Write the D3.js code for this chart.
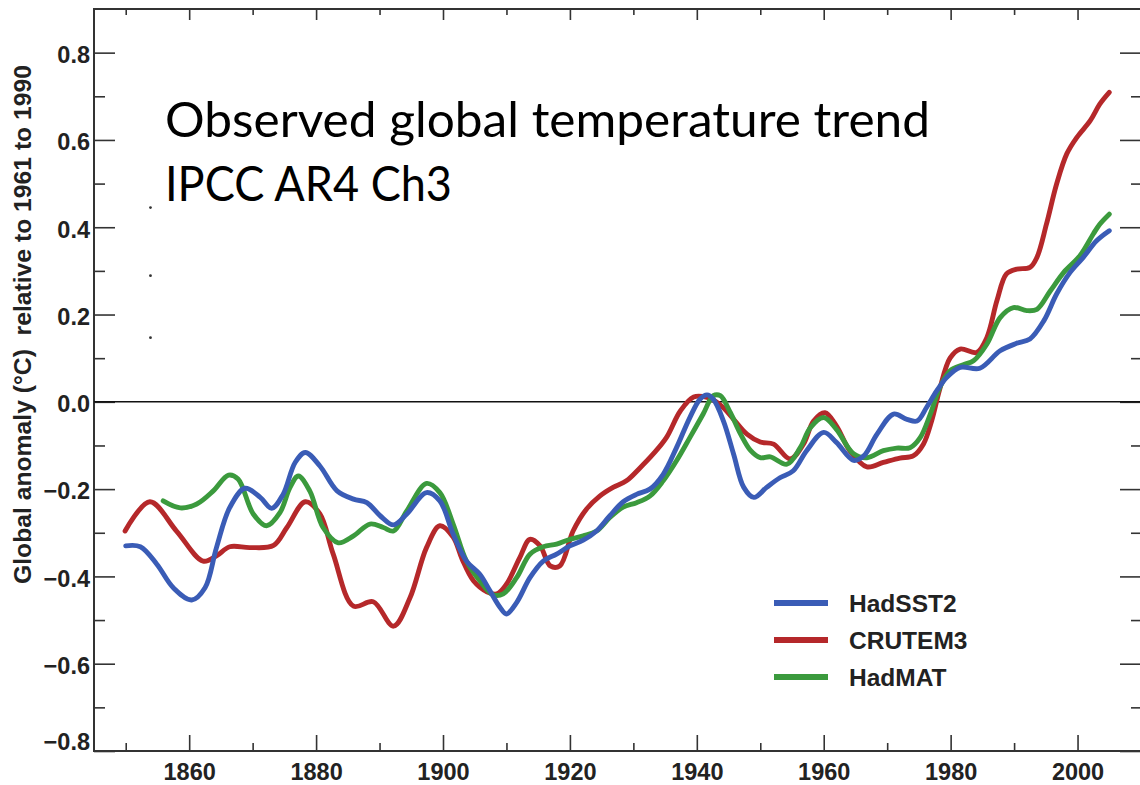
<!DOCTYPE html>
<html>
<head>
<meta charset="utf-8">
<script src="https://cdn.jsdelivr.net/npm/d3@7"></script>
<style>
  html, body { margin: 0; padding: 0; background: #fff; }
  svg { display: block; }
</style>
</head>
<body>
<svg id="chart" width="1140" height="785"></svg>
<script>
// Smoothed global temperature anomalies (°C, relative to 1961–1990), [year, value]
const hadsst2 = [
  [1850.0,-0.330],[1852.3,-0.332],[1854.9,-0.372],[1857.5,-0.426],[1860.4,-0.454],
  [1862.5,-0.426],[1864.3,-0.334],[1866.4,-0.242],[1868.8,-0.198],[1871.2,-0.219],
  [1873.0,-0.244],[1874.8,-0.212],[1876.7,-0.139],[1878.3,-0.116],[1880.6,-0.147],
  [1883.3,-0.204],[1885.9,-0.223],[1888.0,-0.231],[1890.1,-0.261],[1892.2,-0.282],
  [1894.3,-0.257],[1897.4,-0.208],[1899.5,-0.227],[1901.6,-0.303],[1903.7,-0.365],
  [1905.8,-0.395],[1907.4,-0.433],[1909.0,-0.471],[1910.0,-0.486],[1911.6,-0.460],
  [1913.7,-0.403],[1915.8,-0.365],[1917.9,-0.349],[1920.0,-0.330],[1922.1,-0.317],
  [1924.2,-0.296],[1926.3,-0.261],[1928.4,-0.229],[1930.5,-0.212],[1932.6,-0.200],
  [1934.7,-0.166],[1936.8,-0.105],[1938.9,-0.036],[1940.5,0.006],[1941.6,0.016],
  [1942.6,0.006],[1944.2,-0.044],[1945.8,-0.120],[1947.4,-0.196],[1949.0,-0.219],
  [1951.0,-0.196],[1953.1,-0.174],[1955.2,-0.158],[1957.3,-0.112],[1960.0,-0.070],
  [1962.0,-0.093],[1964.7,-0.134],[1966.3,-0.124],[1968.4,-0.074],[1971.0,-0.028],
  [1973.1,-0.040],[1974.7,-0.044],[1976.2,-0.013],[1977.8,0.025],[1979.4,0.056],
  [1981.5,0.079],[1984.6,0.077],[1987.8,0.117],[1990.4,0.134],[1992.5,0.144],
  [1994.7,0.186],[1996.7,0.247],[1998.8,0.296],[2000.9,0.331],[2003.0,0.369],
  [2005.0,0.392]
];

const crutem3 = [
  [1849.9,-0.296],[1853.8,-0.229],[1858.0,-0.296],[1862.2,-0.365],[1864.3,-0.353],
  [1866.4,-0.332],[1869.6,-0.334],[1873.3,-0.329],[1875.4,-0.288],[1878.3,-0.229],
  [1880.6,-0.257],[1882.7,-0.349],[1885.9,-0.468],[1889.0,-0.458],[1892.2,-0.514],
  [1894.8,-0.449],[1897.4,-0.334],[1899.5,-0.284],[1901.6,-0.310],[1903.0,-0.360],
  [1904.8,-0.410],[1906.9,-0.435],[1908.5,-0.440],[1910.0,-0.418],[1912.1,-0.357],
  [1913.7,-0.315],[1915.3,-0.330],[1916.9,-0.376],[1918.4,-0.376],[1920.5,-0.296],
  [1922.6,-0.246],[1924.7,-0.216],[1926.8,-0.196],[1928.9,-0.181],[1931.0,-0.152],
  [1933.1,-0.120],[1935.2,-0.082],[1937.4,-0.021],[1939.5,0.011],[1941.6,0.010],
  [1943.7,-0.007],[1945.8,-0.040],[1947.9,-0.074],[1950.0,-0.092],[1952.1,-0.097],
  [1954.7,-0.131],[1956.8,-0.097],[1958.4,-0.044],[1960.2,-0.025],[1962.0,-0.055],
  [1964.1,-0.112],[1966.8,-0.149],[1969.4,-0.139],[1972.0,-0.129],[1974.1,-0.124],
  [1975.7,-0.097],[1977.0,-0.044],[1978.3,0.030],[1979.9,0.100],[1981.5,0.121],
  [1984.1,0.113],[1985.7,0.147],[1987.3,0.232],[1988.8,0.293],[1990.4,0.304],
  [1992.5,0.308],[1993.6,0.331],[1995.1,0.407],[1996.7,0.499],[1998.3,0.568],
  [1999.9,0.606],[2002.0,0.644],[2003.5,0.682],[2005.0,0.709]
];

const hadmat = [
  [1855.9,-0.227],[1858.6,-0.243],[1861.2,-0.234],[1863.8,-0.204],[1866.2,-0.168],
  [1867.7,-0.177],[1870.1,-0.257],[1872.2,-0.284],[1874.3,-0.254],[1875.9,-0.196],
  [1877.2,-0.170],[1879.0,-0.204],[1881.1,-0.288],[1883.5,-0.323],[1885.9,-0.307],
  [1888.5,-0.280],[1890.6,-0.288],[1892.2,-0.296],[1894.3,-0.250],[1897.4,-0.187],
  [1899.5,-0.208],[1901.6,-0.280],[1903.7,-0.365],[1905.8,-0.410],[1907.9,-0.442],
  [1909.5,-0.440],[1911.6,-0.403],[1913.7,-0.349],[1915.8,-0.332],[1917.9,-0.326],
  [1920.0,-0.315],[1922.1,-0.307],[1924.2,-0.296],[1926.3,-0.265],[1928.4,-0.241],
  [1930.5,-0.231],[1932.6,-0.216],[1934.7,-0.181],[1936.8,-0.135],[1938.9,-0.082],
  [1941.0,-0.028],[1942.6,0.014],[1943.7,0.014],[1945.3,-0.025],[1946.9,-0.074],
  [1948.5,-0.112],[1950.0,-0.128],[1951.6,-0.126],[1954.2,-0.143],[1956.3,-0.105],
  [1957.9,-0.059],[1960.0,-0.036],[1962.0,-0.063],[1964.7,-0.119],[1966.8,-0.128],
  [1969.4,-0.112],[1971.5,-0.106],[1973.6,-0.105],[1975.2,-0.082],[1976.8,-0.028],
  [1978.3,0.033],[1979.9,0.071],[1982.0,0.085],[1983.6,0.094],[1985.7,0.132],
  [1987.8,0.193],[1989.9,0.216],[1992.0,0.209],[1993.6,0.212],[1995.7,0.254],
  [1997.8,0.296],[2000.4,0.335],[2002.5,0.385],[2003.5,0.407],[2005.0,0.430]
];

const seriesNames = ["HadSST2", "CRUTEM3", "HadMAT"];
const seriesColors = ["#3a5cb6", "#b5282a", "#3b9a3d"];

const yMajorTicks = [-0.8, -0.6, -0.4, -0.2, 0.0, 0.2, 0.4, 0.6, 0.8];
const yMinorTicks = [-0.7, -0.5, -0.3, -0.1, 0.1, 0.3, 0.5, 0.7];
const xMajorTicks = [1860, 1880, 1900, 1920, 1940, 1960, 1980, 2000];
const xMinorTicks = [1850, 1870, 1890, 1910, 1930, 1950, 1970, 1990];

const titleLines = ["Observed global temperature trend", "IPCC AR4 Ch3"];
const yTitle = "Global anomaly (°C)  relative to 1961 to 1990";

// small stray dots in the upper-left of the plot area
const specks = [[1853.9, 0.445], [1853.9, 0.289], [1853.9, 0.147]];

// ---- layout ----
const frame = { left: 94, right: 1141, top: 9, bottom: 751 };
const axisFont = "'Liberation Sans', Arial, Helvetica, sans-serif";

const svg = d3.select("#chart");

const x = d3.scaleLinear().domain([1845, 2010]).range([frame.left, frame.right]);
const y = d3.scaleLinear().domain([-0.8, 0.9]).range([frame.bottom, frame.top]);

const fmt = d3.format(".1f");

function styleAxis(g) {
  g.select(".domain").remove();
  g.selectAll(".tick line").attr("stroke", "#333").attr("stroke-width", 1.6);
  g.selectAll(".tick text")
    .attr("fill", "#222")
    .style("font-family", axisFont)
    .style("font-weight", "bold")
    .style("font-size", "23.5px");
}

// left axis (labelled)
svg.append("g")
  .attr("transform", `translate(${frame.left},0)`)
  .call(d3.axisLeft(y).tickValues(yMajorTicks).tickSize(-21).tickPadding(4).tickFormat(fmt))
  .call(styleAxis)
  .call(g => g.selectAll(".tick text").attr("dy", d => d === -0.8 ? "-0.05em" : "0.42em"));
svg.append("g")
  .attr("transform", `translate(${frame.left},0)`)
  .call(d3.axisLeft(y).tickValues(yMinorTicks).tickSize(-11).tickFormat(""))
  .call(styleAxis);

// right axis (ticks only)
svg.append("g")
  .attr("transform", `translate(${frame.right},0)`)
  .call(d3.axisRight(y).tickValues(yMajorTicks).tickSize(-21).tickFormat(""))
  .call(styleAxis);
svg.append("g")
  .attr("transform", `translate(${frame.right},0)`)
  .call(d3.axisRight(y).tickValues(yMinorTicks).tickSize(-10).tickFormat(""))
  .call(styleAxis);

// bottom axis (labelled)
svg.append("g")
  .attr("transform", `translate(0,${frame.bottom})`)
  .call(d3.axisBottom(x).tickValues(xMajorTicks).tickSize(-16).tickPadding(12).tickFormat(d3.format("d")))
  .call(styleAxis);
svg.append("g")
  .attr("transform", `translate(0,${frame.bottom})`)
  .call(d3.axisBottom(x).tickValues(xMinorTicks).tickSize(-8).tickFormat(""))
  .call(styleAxis);

// top axis (ticks only)
svg.append("g")
  .attr("transform", `translate(0,${frame.top})`)
  .call(d3.axisTop(x).tickValues(xMajorTicks).tickSize(-11).tickFormat(""))
  .call(styleAxis);
svg.append("g")
  .attr("transform", `translate(0,${frame.top})`)
  .call(d3.axisTop(x).tickValues(xMinorTicks).tickSize(-6).tickFormat(""))
  .call(styleAxis);

// plot frame
svg.append("rect")
  .attr("x", frame.left).attr("y", frame.top)
  .attr("width", frame.right - frame.left).attr("height", frame.bottom - frame.top)
  .attr("fill", "none").attr("stroke", "#333").attr("stroke-width", 2);

// zero reference line
svg.append("line")
  .attr("x1", x(1845)).attr("x2", x(2010))
  .attr("y1", y(0)).attr("y2", y(0))
  .attr("stroke", "#111").attr("stroke-width", 1.5);

// stray dots
svg.append("g").selectAll("circle")
  .data(specks).join("circle")
  .attr("cx", d => x(d[0])).attr("cy", d => y(d[1]))
  .attr("r", 1.4).attr("fill", "#333");

// series curves
const line = d3.line()
  .x(d => x(d[0]))
  .y(d => y(d[1]))
  .curve(d3.curveCatmullRom.alpha(0.5));

const seriesData = [hadsst2, crutem3, hadmat];
const drawOrder = [1, 2, 0]; // CRUTEM3, HadMAT, then HadSST2 on top
svg.append("g").selectAll("path")
  .data(drawOrder).join("path")
  .attr("d", i => line(seriesData[i]))
  .attr("fill", "none")
  .attr("stroke", i => seriesColors[i])
  .attr("stroke-width", 4.9)
  .attr("stroke-linejoin", "round")
  .attr("stroke-linecap", "round");

// legend
const legend = svg.append("g").attr("transform", "translate(774,603)");
const rows = legend.selectAll("g").data(seriesNames).join("g")
  .attr("transform", (d, i) => `translate(0,${i * 37})`);
rows.append("line")
  .attr("x1", 0).attr("x2", 54).attr("y1", 0).attr("y2", 0)
  .attr("stroke", (d, i) => seriesColors[i]).attr("stroke-width", 6);
rows.append("text")
  .attr("x", 75).attr("y", 8.8)
  .text(d => d)
  .attr("fill", "#222")
  .style("font-family", axisFont)
  .style("font-weight", "bold")
  .style("font-size", "24.5px");

// y axis title
svg.append("text")
  .attr("transform", "translate(31,324.5) rotate(-90)")
  .attr("text-anchor", "middle")
  .attr("textLength", 519)
  .attr("lengthAdjust", "spacingAndGlyphs")
  .style("white-space", "pre")
  .style("font-family", axisFont)
  .style("font-weight", "bold")
  .style("font-size", "23px")
  .attr("fill", "#222")
  .text(yTitle);

// headline
const titleWidths = [765, 287];
svg.append("g").selectAll("text")
  .data(titleLines).join("text")
  .attr("x", 165)
  .attr("y", (d, i) => 137 + i * 64)
  .attr("textLength", (d, i) => titleWidths[i])
  .attr("lengthAdjust", "spacingAndGlyphs")
  .style("font-family", "Lato, 'Open Sans', sans-serif")
  .style("font-size", "49px")
  .attr("fill", "#000")
  .text(d => d);
</script>
</body>
</html>
